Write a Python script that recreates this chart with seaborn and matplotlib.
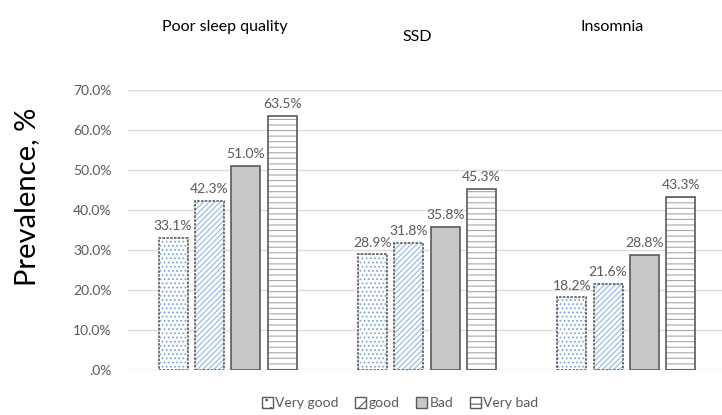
import matplotlib
matplotlib.use("Agg")
import matplotlib.pyplot as plt
from matplotlib.patches import Patch, Rectangle
import pandas as pd
import seaborn as sns

# Prevalence (%) of each outcome by self-rated health level
outcomes = ["Poor sleep quality", "SSD", "Insomnia"]
levels = ["Very good", "good", "Bad", "Very bad"]
poor_sleep = [33.1, 42.3, 51.0, 63.5]
ssd = [28.9, 31.8, 35.8, 45.3]
insomnia = [18.2, 21.6, 28.8, 43.3]
y_ticks = [0, 10, 20, 30, 40, 50, 60, 70]
y_ticklabels = [".0%", "10.0%", "20.0%", "30.0%", "40.0%", "50.0%", "60.0%", "70.0%"]

rows = []
for outcome, vals in zip(outcomes, [poor_sleep, ssd, insomnia]):
    for lvl, v in zip(levels, vals):
        rows.append({"outcome": outcome, "level": lvl, "prevalence": v})
df = pd.DataFrame(rows)

sns.set_theme(style="white")
plt.rcParams["font.family"] = ["Lato", "DejaVu Sans"]
plt.rcParams["hatch.linewidth"] = 0.8

TEXT_GRAY = "#595959"
EDGE = "#5a5a5a"

# fill, hatch, hatch colour, outline style per level
styles = {
    "Very good": dict(face="white", hatch="....", hcolor="#7ea6d8", ls=(0, (1.5, 0.8))),
    "good": dict(face="white", hatch="//////", hcolor="#8db8e4", ls=(0, (1.5, 0.8))),
    "Bad": dict(face="#c8c8c8", hatch="", hcolor="#c8c8c8", ls="-"),
    "Very bad": dict(face="white", hatch="---", hcolor="#a8a8a8", ls="-"),
}

fig = plt.figure(figsize=(7.22, 4.15), dpi=100)
ax = fig.add_axes([128 / 722, 1 - 370 / 415, 598 / 722, 280 / 415])

sns.barplot(data=df, x="outcome", y="prevalence", hue="level",
            order=outcomes, hue_order=levels, width=0.73, gap=0.2,
            palette=["white"] * 4, legend=False, ax=ax, zorder=2)

for lvl, cont in zip(levels, ax.containers):
    st = styles[lvl]
    for bar in cont:
        bar.set_facecolor(st["face"])
        bar.set_hatch(st["hatch"])
        bar.set_edgecolor(st["hcolor"])
        bar.set_linewidth(0)
        outline = Rectangle(bar.get_xy(), bar.get_width(), bar.get_height(),
                            fill=False, edgecolor=EDGE, linewidth=1.2,
                            linestyle=st["ls"], zorder=3)
        ax.add_patch(outline)
    ax.bar_label(cont, labels=[f"{b.get_height():.1f}%" for b in cont],
                 padding=4, color=TEXT_GRAY, fontsize=10)

ax.set_ylim(0, 70)
ax.set_xlim(-0.5, 2.5)
ax.set_yticks(y_ticks)
ax.set_yticklabels(y_ticklabels, color=TEXT_GRAY, fontsize=10)
ax.tick_params(axis="y", length=0, pad=12)
ax.set_xticks([])
ax.set_xlabel("")
ax.set_ylabel("")
ax.yaxis.grid(True, color="#dcdcdc", linewidth=1)
ax.set_axisbelow(True)
for s in ax.spines.values():
    s.set_visible(False)

# outcome titles above the panel
title_pos = [(225, 27), (417, 37), (612, 27)]
for name, (px, py) in zip(outcomes, title_pos):
    fig.text(px / 722, 1 - py / 415, name, ha="center", va="center",
             fontsize=11.5, color="black")

fig.text(27 / 722, 1 - 197 / 415, "Prevalence, %", rotation=90,
         ha="center", va="center", fontsize=21, color="black")

handles = [Patch(facecolor=styles[l]["face"], hatch=styles[l]["hatch"][:2],
                 edgecolor=EDGE, linewidth=1) for l in levels]
fig.legend(handles, levels, loc="center", bbox_to_anchor=(400 / 722, 1 - 403 / 415),
           ncol=4, frameon=False, fontsize=10, handlelength=0.8, handleheight=0.8,
           handletextpad=0.15, columnspacing=1.2, labelcolor=TEXT_GRAY)

fig.savefig("out.png", dpi=100)
